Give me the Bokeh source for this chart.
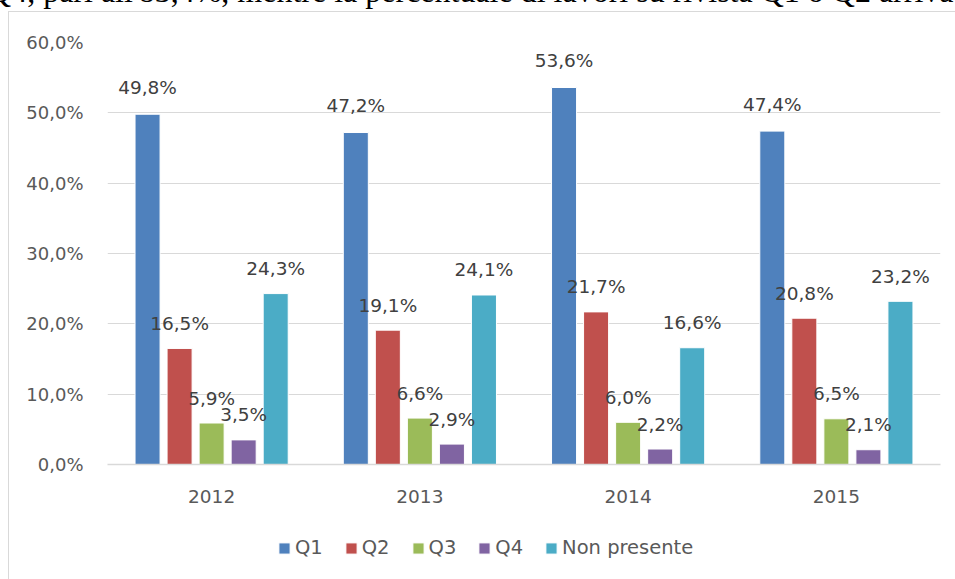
from bokeh.plotting import figure
from bokeh.layouts import column
from bokeh.models import (FactorRange, Range1d, FixedTicker, LabelSet, ColumnDataSource,
                          Legend, LegendItem, Title)
from bokeh.core.properties import value
from bokeh.transform import dodge
from bokeh.embed import file_html
from bokeh.resources import INLINE

# ---------------- data ----------------
years = ["2012", "2013", "2014", "2015"]
series = ["Q1", "Q2", "Q3", "Q4", "Non presente"]
q1 = [49.8, 47.2, 53.6, 47.4]
q2 = [16.5, 19.1, 21.7, 20.8]
q3 = [5.9, 6.6, 6.0, 6.5]
q4 = [3.5, 2.9, 2.2, 2.1]
non_presente = [24.3, 24.1, 16.6, 23.2]
tick_values = [0, 10, 20, 30, 40, 50, 60]
tick_labels = ["0,0%", "10,0%", "20,0%", "30,0%", "40,0%", "50,0%", "60,0%"]
header_text = "Q4, pari all'83,4%, mentre la percentuale di lavori su rivista Q1 o Q2 arriva"

values = [q1, q2, q3, q4, non_presente]
colors = ["#4F81BD", "#C0504D", "#9BBB59", "#8064A2", "#4BACC6"]

FONT = "DejaVu Sans"
GRID = "#D9D9D9"
D = 66                      # the chart canvas starts D px above the page top
W = 955
SPLIT = 520                 # page y where the legend strip begins
H1, H2 = SPLIT + D, 579 - SPLIT
FL, FR, FT, FB = 107, 940, 42 + D, 464 + D


def border_styles(height, top):
    return {
        "background-color": "white",
        "background-image": "linear-gradient(%s, %s), linear-gradient(%s, %s)" % (GRID, GRID, GRID, GRID),
        "background-repeat": "no-repeat",
        "background-size": "1px %dpx, %dpx 1px" % (height, W if top is not None else 0),
        "background-position": "8px %dpx, 8px %dpx" % (top or 0, top or 0),
    }


p = figure(x_range=FactorRange(factors=years, range_padding=0),
           y_range=Range1d(0, 60),
           width=W, height=H1, output_backend="svg", toolbar_location=None,
           min_border_left=FL, min_border_right=W - FR,
           min_border_top=FT, min_border_bottom=H1 - FB)
p.outline_line_color = None
p.background_fill_color = "white"
p.border_fill_alpha = 0
p.styles = border_styles(H1, 11 + D)

# legend strip (its own canvas so that the legend is not clipped by the chart frame)
p2 = figure(x_range=p.x_range, y_range=Range1d(0, 60), width=W, height=H2,
            output_backend="svg", toolbar_location=None,
            x_axis_location=None, y_axis_location=None,
            min_border_left=0, min_border_right=0, min_border_top=0, min_border_bottom=0)
p2.outline_line_color = None
p2.grid.visible = False
p2.background_fill_alpha = 0
p2.border_fill_alpha = 0
p2.styles = border_styles(H2, None)

stride = 32 / 208
bw = 25 / 208
label_offsets = [27, 25, 25, 25, 25]
items = []
for i, (name, vals, col) in enumerate(zip(series, values, colors)):
    off = (i - 2) * stride
    src = ColumnDataSource(dict(year=years, v=vals,
                                lab=[("%.1f%%" % v).replace(".", ",") for v in vals]))
    p.vbar(x=dodge("year", off, range=p.x_range), top="v", width=bw, source=src,
           fill_color=col, line_color="white", line_width=1)
    proxy = p2.vbar(x=dodge("year", off, range=p.x_range), top="v", width=bw, source=src,
                    fill_color=col, line_color="white", line_width=1, visible=False)
    items.append(LegendItem(label=name, renderers=[proxy]))
    ls = LabelSet(x=dodge("year", off, range=p.x_range), y="v", text="lab", source=src,
                  y_offset=label_offsets[i], text_align="center", text_baseline="middle",
                  text_font=value(FONT), text_font_size=value("18.5px"),
                  text_color="#404040")
    p.add_layout(ls)

# axes
for ax in (p.xaxis[0], p.yaxis[0]):
    ax.major_tick_line_color = None
    ax.minor_tick_line_color = None
    ax.major_tick_out = 0
    ax.major_tick_in = 0
    ax.minor_tick_out = 0
    ax.minor_tick_in = 0
    ax.major_label_text_font = FONT
    ax.major_label_text_color = "#595959"

p.yaxis.ticker = FixedTicker(ticks=tick_values)
p.yaxis.major_label_overrides = {v: t for v, t in zip(tick_values, tick_labels)}
p.yaxis.axis_line_color = None
p.yaxis.major_label_standoff = 24
p.yaxis.major_label_text_font_size = "18px"

p.xaxis.axis_line_color = GRID
p.xaxis.axis_line_width = 1.5
p.xaxis.major_label_standoff = 25
p.xaxis.major_label_text_font_size = "18.5px"

p.xgrid.visible = False
p.ygrid.ticker = FixedTicker(ticks=tick_values)
p.ygrid.grid_line_color = GRID
p.ygrid.grid_line_width = 1

legend = Legend(items=items, orientation="horizontal", location=(170, 20),
                glyph_width=14, glyph_height=14, label_standoff=4, spacing=21,
                padding=0, margin=0, border_line_color=None, background_fill_alpha=0,
                label_text_font=FONT, label_text_font_size="19.5px",
                label_text_color="#595959")
p2.add_layout(legend, "center")

# cropped line of document text above the chart
p.add_layout(Title(text=header_text, align="right", offset=-13, standoff=68,
                   vertical_align="bottom", text_font="Liberation Serif",
                   text_font_size="32px", text_font_style="normal",
                   text_color="black"), "above")

layout = column(p, p2, spacing=0, margin=(-D, 0, 0, 0))
open("out.html", "w").write(file_html(layout, INLINE))
